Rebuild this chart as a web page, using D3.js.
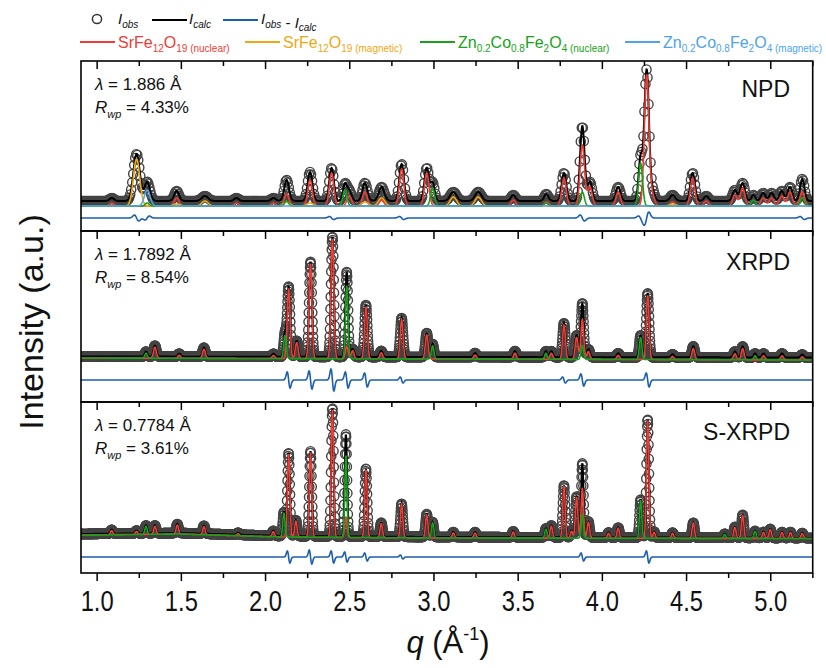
<!DOCTYPE html>
<html>
<head>
<meta charset="utf-8">
<script src="https://cdn.jsdelivr.net/npm/d3@7"></script>
<style>
	body { margin: 0; background: #fff; }
	svg { font-family: "Liberation Sans", Arial, sans-serif; }
</style>
</head>
<body>
<div id="chart"></div>
<script>
// q range and tick values
const qDomain = [0.907, 5.252];
const majorTicks = [1.0, 1.5, 2.0, 2.5, 3.0, 3.5, 4.0, 4.5, 5.0];
const minorTicks = [1.25, 1.75, 2.25, 2.75, 3.25, 3.75, 4.25, 4.75, 5.25];

// peak lists: [q, height above phase baseline]
const npdSrNuclear = [[1.09, 3], [1.475, 8], [1.83, 3], [2.05, 3], [2.128, 12], [2.267, 26], [2.395, 33], [2.50, 10],
	[2.593, 14], [2.692, 6], [2.811, 37], [2.96, 33], [3.474, 6], [3.672, 4], [3.775, 28], [3.884, 61], [3.929, 19],
	[4.097, 14], [4.266, 131], [4.30, 10], [4.42, 4], [4.539, 28], [4.62, 5], [4.79, 11], [4.836, 18], [4.958, 8],
	[5.008, 8], [5.068, 10], [5.117, 14], [5.19, 14]];
const npdSrMagnetic = [[1.237, 47], [1.475, 2], [1.643, 5], [2.128, 4], [2.267, 3], [2.593, 4], [2.692, 8],
	[3.118, 9], [3.266, 9], [4.42, 2]];
const npdZnNuclear = [[1.30, 3], [2.128, 5], [2.474, 16], [2.995, 18], [3.668, 3], [3.884, 14], [4.23, 43],
	[4.9, 6], [5.19, 8]];
const npdZnMagnetic = [[1.30, 16]];

const xrpdSrNuclear = [[1.346, 11], [1.49, 3], [1.637, 9], [2.05, 3], [2.14, 70], [2.188, 16], [2.27, 95],
	[2.40, 120], [2.485, 12], [2.52, 8], [2.599, 52], [2.69, 6], [2.811, 39], [2.96, 24], [3.247, 4], [3.484, 6],
	[3.70, 6], [3.775, 34], [3.85, 22], [3.884, 40], [3.92, 8], [4.097, 4], [4.272, 64], [4.42, 3], [4.543, 11],
	[4.79, 6], [4.836, 11], [4.96, 4], [5.07, 4], [5.19, 3]];
const xrpdZnNuclear = [[1.293, 5], [2.118, 23], [2.485, 73], [2.995, 13], [3.668, 6], [3.884, 14], [4.23, 22],
	[4.91, 4]];

const sxrpdSrNuclear = [[1.089, 4], [1.237, 3], [1.346, 8], [1.479, 9], [1.637, 8], [1.84, 2], [2.049, 5],
	[2.14, 83], [2.183, 16], [2.27, 85], [2.40, 128], [2.48, 20], [2.599, 68], [2.69, 14], [2.811, 33], [2.96, 23],
	[3.118, 5], [3.247, 5], [3.474, 6], [3.70, 12], [3.775, 52], [3.82, 7], [3.85, 41], [3.884, 50], [3.92, 16],
	[4.04, 5], [4.097, 10], [4.272, 118], [4.31, 6], [4.42, 5], [4.543, 15], [4.79, 11], [4.836, 23], [4.96, 6],
	[5.0, 9], [5.07, 6], [5.12, 6], [5.19, 5]];
const sxrpdZnNuclear = [[1.293, 8], [2.112, 24], [2.48, 82], [2.995, 15], [3.668, 9], [3.884, 24], [4.23, 38],
	[4.73, 4], [4.91, 7]];

// background knots [q, level]: calc curve and phase curves
const npdCalcBg = [[0.907, 5], [5.252, 5]];
const npdPhaseBg = [[0.907, 0], [5.252, 0]];
const xrpdCalcBg = [[0.907, 2.5], [5.252, 1.5]];
const xrpdPhaseBg = [[0.907, 1], [5.252, -1]];
const sxrpdCalcBg = [[0.907, 4], [1.5, 5], [2.1, 2], [3.0, 1], [5.252, 0]];
const sxrpdPhaseBg = [[0.907, 3], [1.5, 4], [2.1, 1], [3.0, 0], [5.252, -0.5]];

// Iobs - Icalc features: [q, amplitude]
const npdDiff = [[1.237, 3], [1.30, -2], [2.395, 1.5], [2.811, 1.5], [3.884, 3], [4.23, 2], [4.266, -6], [5.19, 1.5]];
const xrpdDiff = [[2.14, 8], [2.27, 9], [2.40, 11], [2.485, 8], [2.599, 7], [2.811, 3], [3.775, 3], [3.884, 6], [4.272, 7]];
const sxrpdDiff = [[2.14, 6], [2.27, 7], [2.40, 6], [2.48, 5], [2.599, 4], [2.811, 2], [3.884, 4], [4.272, 6]];

const red = "#ee3d35", orange = "#f2a712", green = "#17a21a", lightBlue = "#4ea3ec", diffBlue = "#1b5ead";

const panels = [
	{ name: "NPD", lambda: "1.886", rwp: "4.33", yDomain: [-25, 145], diffLevel: -12, obsStep: 0.006,
		calcBg: npdCalcBg, phaseBg: npdPhaseBg, diff: npdDiff, diffW: 0.03,
		phases: [
			{ peaks: npdSrNuclear, w: 0.032, color: red },
			{ peaks: npdSrMagnetic, w: 0.045, color: orange },
			{ peaks: npdZnNuclear, w: 0.028, color: green },
			{ peaks: npdZnMagnetic, w: 0.04, color: lightBlue }
		] },
	{ name: "XRPD", lambda: "1.7892", rwp: "8.54", yDomain: [-43, 128], diffLevel: -21, obsStep: 0.0015,
		calcBg: xrpdCalcBg, phaseBg: xrpdPhaseBg, diff: xrpdDiff, diffW: 0.02,
		phases: [
			{ peaks: xrpdSrNuclear, w: 0.02, color: red },
			{ peaks: xrpdZnNuclear, w: 0.018, color: green }
		] },
	{ name: "S-XRPD", lambda: "0.7784", rwp: "3.61", yDomain: [-35, 136], diffLevel: -19, obsStep: 0.0015,
		calcBg: sxrpdCalcBg, phaseBg: sxrpdPhaseBg, diff: sxrpdDiff, diffW: 0.018,
		phases: [
			{ peaks: sxrpdSrNuclear, w: 0.017, color: red },
			{ peaks: sxrpdZnNuclear, w: 0.016, color: green }
		] }
];

const margin = { top: 61, right: 13.3, bottom: 95, left: 81 };
const W = 826, H = 668;
const width = W - margin.left - margin.right;
const panelTops = [0, 170, 341, 512];

const x = d3.scaleLinear().domain(qDomain).range([0, width]);

// gaussian peak sum, w = FWHM
function profile(peaks, w, q) {
	let s = 0;
	for (const [c, h] of peaks) {
		const d = (q - c) / w;
		s += h * Math.exp(-4 * Math.LN2 * d * d);
	}
	return s;
}

// derivative-shaped wiggle for the difference curve
function wiggle(features, w, q) {
	const sig = w / 2.355;
	let s = 0;
	for (const [c, a] of features) {
		const d = (q - c) / sig;
		s += -a * d * Math.exp(-d * d / 2) * 1.65;
	}
	return s;
}

function knotScale(knots) {
	return d3.scaleLinear().domain(knots.map(k => k[0])).range(knots.map(k => k[1])).clamp(true);
}

const svg = d3.select("#chart").append("svg")
	.attr("width", W)
	.attr("height", H);

const plot = svg.append("g")
	.attr("transform", "translate(" + [margin.left, margin.top] + ")");

const fineGrid = d3.range(qDomain[0], qDomain[1], 0.002);

panels.forEach(function(p, i) {
	const top = panelTops[i], h = panelTops[i + 1] - panelTops[i];
	const y = d3.scaleLinear().domain(p.yDomain).range([h, 0]);
	const calcBg = knotScale(p.calcBg), phaseBg = knotScale(p.phaseBg);
	const allPhases = p.phases;

	const g = plot.append("g").attr("transform", "translate(0," + top + ")");

	g.append("clipPath").attr("id", "clip" + i)
		.append("rect").attr("width", width).attr("height", h);

	const inner = g.append("g").attr("clip-path", "url(#clip" + i + ")");

	const calcAt = q => calcBg(q) + d3.sum(allPhases, ph => profile(ph.peaks, ph.w, q));

	// observed points drawn as open circles
	const obsGrid = d3.range(qDomain[0] - 0.02, qDomain[1] + 0.02, p.obsStep);
	inner.append("g")
		.selectAll("circle")
		.data(obsGrid)
		.join("circle")
		.attr("cx", d => x(d))
		.attr("cy", d => y(calcAt(d)))
		.attr("r", 4.6)
		.attr("fill", "none")
		.attr("stroke", "#444")
		.attr("stroke-width", 1.4);

	const line = d3.line().x(d => x(d[0])).y(d => y(d[1]));

	inner.append("path")
		.datum(fineGrid.map(q => [q, calcAt(q)]))
		.attr("fill", "none")
		.attr("stroke", "#000")
		.attr("stroke-width", 2)
		.attr("d", line);

	allPhases.forEach(function(ph) {
		inner.append("path")
			.datum(fineGrid.map(q => [q, phaseBg(q) + profile(ph.peaks, ph.w, q)]))
			.attr("fill", "none")
			.attr("stroke", ph.color)
			.attr("stroke-width", 1.6)
			.attr("d", line);
	});

	inner.append("path")
		.datum(fineGrid.map(q => [q, p.diffLevel + wiggle(p.diff, p.diffW, q)]))
		.attr("fill", "none")
		.attr("stroke", diffBlue)
		.attr("stroke-width", 1.6)
		.attr("d", line);

	// inward ticks along the top of each panel
	const topMajor = d3.axisBottom(x).tickValues(majorTicks).tickSize(8).tickFormat("");
	const topMinor = d3.axisBottom(x).tickValues(minorTicks).tickSize(5).tickFormat("");
	g.append("g").call(topMajor).call(a => a.select(".domain").remove());
	g.append("g").call(topMinor).call(a => a.select(".domain").remove());
	g.selectAll(".tick line").attr("stroke", "#000").attr("stroke-width", 1.5);

	g.append("rect")
		.attr("width", width)
		.attr("height", h)
		.attr("fill", "none")
		.attr("stroke", "#000")
		.attr("stroke-width", 1.6);

	// wavelength and Rwp annotations
	const ann = g.append("g").attr("font-size", 17).attr("fill", "#111");
	const l1 = ann.append("text").attr("x", 14).attr("y", 29);
	l1.append("tspan").attr("font-style", "italic").text("λ");
	l1.append("tspan").text(" = " + p.lambda + " Å");
	const l2 = ann.append("text").attr("x", 14).attr("y", 52);
	l2.append("tspan").attr("font-style", "italic").text("R");
	l2.append("tspan").attr("font-style", "italic").attr("font-size", 11).attr("dy", 5).text("wp");
	l2.append("tspan").attr("dy", -5).text(" = " + p.rwp + "%");

	g.append("text")
		.attr("x", 709)
		.attr("y", [36, 39, 38][i])
		.attr("text-anchor", "end")
		.attr("font-size", 23)
		.attr("fill", "#111")
		.text(p.name);
});

// bottom axis
const axisY = panelTops[3];
const bottomMajor = d3.axisBottom(x).tickValues(majorTicks).tickSize(8).tickFormat(d3.format(".1f"));
const bottomMinor = d3.axisBottom(x).tickValues(minorTicks).tickSize(5).tickFormat("");
plot.append("g").attr("transform", "translate(0," + axisY + ")").call(bottomMinor)
	.call(a => a.select(".domain").remove());
const xAxisG = plot.append("g").attr("class", "x axis")
	.attr("transform", "translate(0," + axisY + ")").call(bottomMajor);
xAxisG.select(".domain").remove();
plot.selectAll(".tick line").attr("stroke", "#000").attr("stroke-width", 1.5);
// the reference uses a condensed face for the tick labels
xAxisG.selectAll("text")
	.attr("y", 38)
	.attr("dy", 0)
	.attr("fill", "#111")
	.attr("font-size", 29)
	.attr("textLength", 33)
	.attr("lengthAdjust", "spacingAndGlyphs");

// axis titles
const xTitle = svg.append("text")
	.attr("x", 448)
	.attr("y", 653)
	.attr("text-anchor", "middle")
	.attr("font-size", 31)
	.attr("fill", "#111");
xTitle.append("tspan").attr("font-style", "italic").text("q");
xTitle.append("tspan").text(" (Å");
xTitle.append("tspan").attr("font-size", 18).attr("dy", -13).text("-1");
xTitle.append("tspan").attr("dy", 13).text(")");

svg.append("text")
	.attr("transform", "translate(43,322) rotate(-90)")
	.attr("text-anchor", "middle")
	.attr("font-size", 34)
	.attr("fill", "#111")
	.text("Intensity (a.u.)");

// legend
const legend = svg.append("g").attr("fill", "#111");

function italicSub(t, main, sub, size, subSize) {
	t.append("tspan").attr("font-style", "italic").attr("font-size", size).text(main);
	t.append("tspan").attr("font-style", "italic").attr("font-size", subSize).attr("dy", 3.5).text(sub);
	t.append("tspan").attr("dy", -3.5).text("");
}

legend.append("circle").attr("cx", 97).attr("cy", 19).attr("r", 4.6)
	.attr("fill", "none").attr("stroke", "#333").attr("stroke-width", 1.5);
italicSub(legend.append("text").attr("x", 118).attr("y", 24), "I", "obs", 15, 10);
legend.append("line").attr("x1", 152).attr("x2", 187).attr("y1", 20).attr("y2", 20)
	.attr("stroke", "#000").attr("stroke-width", 2.2);
italicSub(legend.append("text").attr("x", 189).attr("y", 24), "I", "calc", 15, 10);
legend.append("line").attr("x1", 223).attr("x2", 258).attr("y1", 20).attr("y2", 20)
	.attr("stroke", diffBlue).attr("stroke-width", 2.2);
const diffLabel = legend.append("text").attr("x", 261).attr("y", 24);
italicSub(diffLabel, "I", "obs", 15, 10);
diffLabel.append("tspan").attr("font-size", 15).text(" - ");
italicSub(diffLabel, "I", "calc", 15, 10);

// phase entries: parts alternate normal / subscript
const phaseEntries = [
	{ x0: 80, parts: ["SrFe", "12", "O", "19"], tag: "(nuclear)", color: red },
	{ x0: 245, parts: ["SrFe", "12", "O", "19"], tag: "(magnetic)", color: orange },
	{ x0: 420, parts: ["Zn", "0.2", "Co", "0.8", "Fe", "2", "O", "4"], tag: "(nuclear)", color: green },
	{ x0: 625, parts: ["Zn", "0.2", "Co", "0.8", "Fe", "2", "O", "4"], tag: "(magnetic)", color: lightBlue }
];

phaseEntries.forEach(function(e) {
	legend.append("line").attr("x1", e.x0).attr("x2", e.x0 + 35).attr("y1", 42).attr("y2", 42)
		.attr("stroke", e.color).attr("stroke-width", 2);
	const t = legend.append("text").attr("x", e.x0 + 38).attr("y", 47.5).attr("fill", e.color);
	e.parts.forEach(function(s, k) {
		if (k % 2 === 0) {
			t.append("tspan").attr("font-size", 16).attr("dy", k === 0 ? 0 : -4).text(s);
		} else {
			t.append("tspan").attr("font-size", 10).attr("dy", 4).text(s);
		}
	});
	t.append("tspan").attr("font-size", 10).text(" " + e.tag);
});
</script>
</body>
</html>
